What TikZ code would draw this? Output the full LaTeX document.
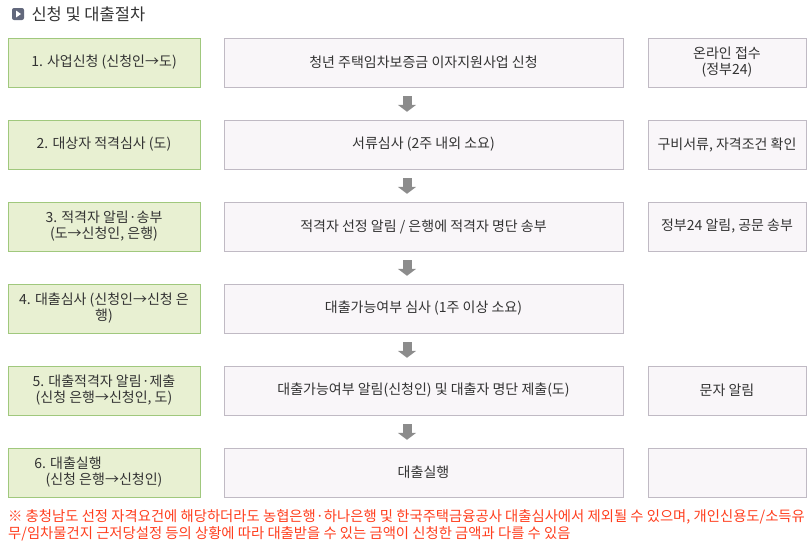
\documentclass[tikz,border=0pt]{standalone}
\usepackage{fontspec}
\setmainfont{Noto Sans CJK KR}
\usetikzlibrary{arrows.meta}
\definecolor{stepfill}{RGB}{232,240,210}
\definecolor{stepline}{RGB}{160,200,125}
\definecolor{boxfill}{RGB}{249,246,249}
\definecolor{boxline}{RGB}{192,186,196}
\definecolor{textgray}{RGB}{51,51,51}
\definecolor{notered}{RGB}{255,62,30}
\definecolor{icongray}{RGB}{98,104,124}
\tikzset{
stage/.style={
	  draw=stepline,fill=stepfill,minimum width=192pt,minimum height=49pt,
	    align=center,font=\fontsize{14}{16}\selectfont,text=textgray},
detail/.style={
	  draw=boxline,fill=boxfill,minimum width=399pt,minimum height=49pt,
	    align=center,font=\fontsize{14}{16}\selectfont,text=textgray},
remark/.style={
	  detail,minimum width=158pt},
downarrow/.style={
	  draw=gray!90,line width=9pt,shorten <=9pt,shorten >=8pt,
	    -{Triangle[width=18pt,length=7pt]}}
}

\begin{document}
\begin{tikzpicture}[x=1pt,y=-1pt]
	\useasboundingbox (0,0) rectangle (812,547);
	\node[fill=icongray, rounded corners=2pt, minimum size=12pt, inner sep=0pt] (icon) at (18,14) {};
	\fill[white] (16,10.5) -- (21,14) -- (16,17.5) -- cycle;
	\node[anchor=west, font=\fontsize{16.5}{18}\selectfont, text=textgray] (title) at (28,14) {신청 및 대출절차};
	\coordinate (mid) at (407,0);
	% stages
	\node[stage] (s1) at (104,62.5) {1. 사업신청 (신청인→도)};
	\node[stage] (s2) at (104,144.5) {2. 대상자 적격심사 (도)};
	\node[stage] (s3) at (104,226.5) {3. 적격자 알림·송부\\(도→신청인, 은행)};
	\node[stage] (s4) at (104,308.5) {4. 대출심사 (신청인→신청 은\\행)};
	\node[stage] (s5) at (104,390.5) {5. 대출적격자 알림·제출\\(신청 은행→신청인, 도)};
	\node[stage] (s6) at (104,472.5) {6. 대출실행\hspace*{72pt}\\(신청 은행→신청인)};
	% details
	\node[detail] (d1) at (423.5,62.5) {청년 주택임차보증금 이자지원사업 신청};
	\node[detail] (d2) at (423.5,144.5) {서류심사 (2주 내외 소요)};
	\node[detail] (d3) at (423.5,226.5) {적격자 선정 알림 / 은행에 적격자 명단 송부};
	\node[detail] (d4) at (423.5,308.5) {대출가능여부 심사 (1주 이상 소요)};
	\node[detail] (d5) at (423.5,390.5) {대출가능여부 알림(신청인) 및 대출자 명단 제출(도)};
	\node[detail] (d6) at (423.5,472.5) {대출실행};
	% remarks
	\node[remark] (r1) at (727,62.5) {온라인 접수\\(정부24)};
	\node[remark] (r2) at (727,144.5) {구비서류, 자격조건 확인};
	\node[remark] (r3) at (727,226.5) {정부24 알림, 공문 송부};
	\node[remark] (r5) at (727,390.5) {문자 알림};
	\node[remark] (r6) at (727,472.5) {};
	\draw[downarrow] (d1.south -| mid) -- (d2.north -| mid);
	\draw[downarrow] (d2.south -| mid) -- (d3.north -| mid);
	\draw[downarrow] (d3.south -| mid) -- (d4.north -| mid);
	\draw[downarrow] (d4.south -| mid) -- (d5.north -| mid);
	\draw[downarrow] (d5.south -| mid) -- (d6.north -| mid);
	\node[anchor=north west, align=left, inner sep=0pt, text=notered, font=\fontsize{14.35}{17}\selectfont] (note) at (8,509.5)
	{※ 충청남도 선정 자격요건에 해당하더라도 농협은행·하나은행 및 한국주택금융공사 대출심사에서 제외될 수 있으며, 개인신용도/소득유\\무/임차물건지 근저당설정 등의 상황에 따라 대출받을 수 있는 금액이 신청한 금액과 다를 수 있음};
\end{tikzpicture}
\end{document}
